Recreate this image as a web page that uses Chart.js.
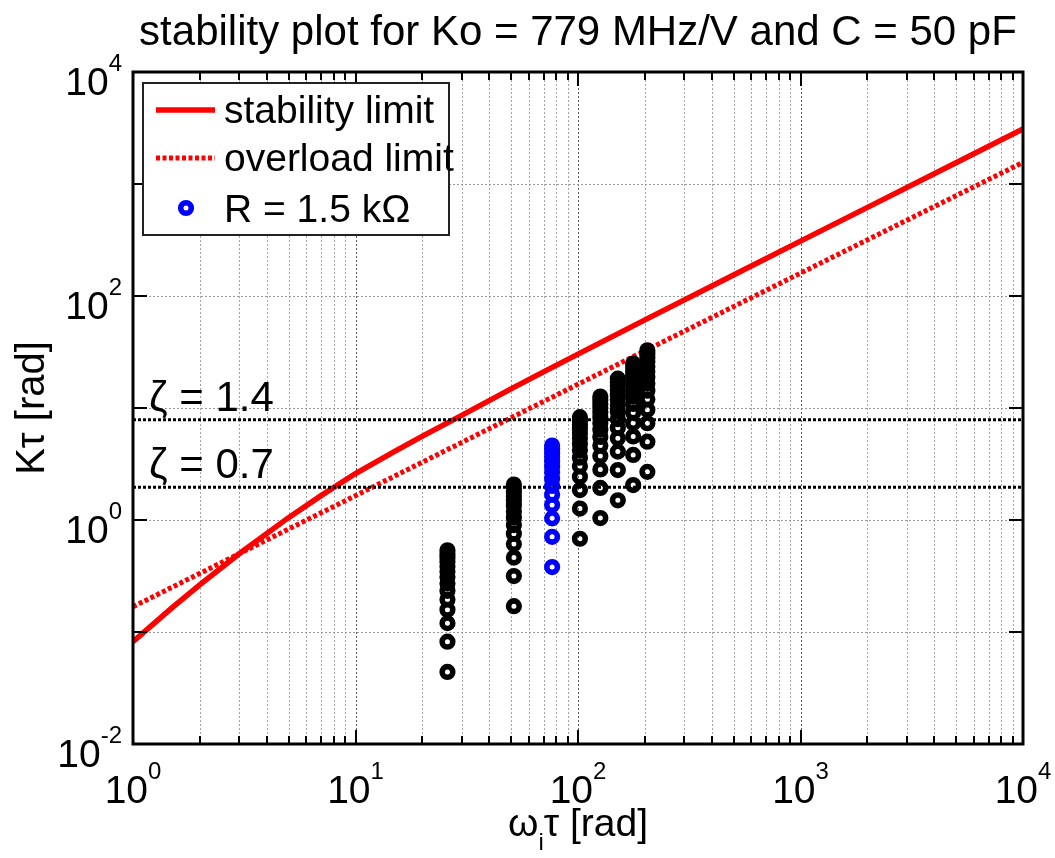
<!DOCTYPE html>
<html><head><meta charset="utf-8">
<script src="https://cdn.jsdelivr.net/npm/chart.js@4.4.0/dist/chart.umd.min.js"></script>
<style>html,body{margin:0;padding:0;background:#fff;}#wrap{width:1055px;height:858px;position:relative;}</style>
</head><body><div id="wrap"><canvas id="c" width="1055" height="858"></canvas></div>
<script>
// ---------------- data ----------------
const titleText = 'stability plot for Ko = 779 MHz/V and C = 50 pF';
const xTickValues = [1, 10, 100, 1000, 10000];
const xTickExps = ['0', '1', '2', '3', '4'];
const xMinorGrid = [2,3,4,5,6,7,8,9,20,30,40,50,60,70,80,90,200,300,400,500,600,700,800,900,2000,3000,4000,5000,6000,7000,8000,9000];
const yDecades = [0.01, 0.1, 1, 10, 100, 1000, 10000];
const yTickValues = [0.01, 1, 100, 10000];
const yTickExps = ['-2', '0', '2', '4'];

const stabilityX = [1, 1.5, 2, 3, 5, 7, 10, 15, 20, 30, 50, 70, 100, 200, 500, 1000, 2000, 5000, 10000];
const stabilityY = [0.082, 0.165, 0.265, 0.5, 1.05, 1.65, 2.6, 4.1, 5.6, 8.6, 14.8, 21, 30.3, 61.2, 154, 309, 619, 1549, 3099];
const overloadX = [1, 10, 100, 1000, 10000];
const overloadY = [0.168, 1.65, 16.3, 160, 1560];

const zetaValues = [7.84, 1.96];
const zetaLabels = ['\u03B6 = 1.4', '\u03B6 = 0.7'];

const colX = [25.9, 51.5, 102, 126, 151, 177, 205];
const colK = [
  [0.044, 0.082, 0.12, 0.158, 0.195, 0.233, 0.271, 0.309, 0.347, 0.385, 0.422, 0.46, 0.498, 0.536],
  [0.17, 0.316, 0.462, 0.609, 0.755, 0.901, 1.047, 1.193, 1.34, 1.486, 1.632, 1.778, 1.924, 2.071],
  [0.68, 1.265, 1.85, 2.434, 3.019, 3.604, 4.189, 4.774, 5.358, 5.943, 6.528, 7.113, 7.698, 8.282],
  [1.04, 1.934, 2.829, 3.723, 4.618, 5.512, 6.406, 7.301, 8.195, 9.09, 9.984, 10.878, 11.773, 12.667],
  [1.5, 2.79, 4.08, 5.37, 6.66, 7.95, 9.24, 10.53, 11.82, 13.11, 14.4, 15.69, 16.98, 18.27],
  [2.05, 3.813, 5.576, 7.339, 9.102, 10.865, 12.628, 14.391, 16.154, 17.917, 19.68, 21.443, 23.206, 24.969],
  [2.69, 5.003, 7.317, 9.63, 11.944, 14.257, 16.57, 18.884, 21.197, 23.511, 25.824, 28.137, 30.451, 32.764]
];
const blueX = 76.5;
const blueK = [0.38, 0.707, 1.034, 1.36, 1.687, 2.014, 2.341, 2.668, 2.994, 3.321, 3.648, 3.975, 4.302, 4.628];

const legendLabels = ['stability limit', 'overload limit', 'R = 1.5 k\u03A9'];

// ---------------- build ----------------
const FONT = "'Liberation Sans', Arial, Helvetica, sans-serif";
const blackPts = [];
colX.forEach((xv, i) => colK[i].forEach(k => blackPts.push({x: xv, y: k})));
const bluePts = blueK.map(k => ({x: blueX, y: k}));
const pairs = (xs, ys) => xs.map((v, i) => ({x: v, y: ys[i]}));

const R_PT = 5.3, BW_PT = 5.6;
const ringStyle = (color) => ({
  showLine: false, pointStyle: 'circle', pointRadius: R_PT, pointBorderWidth: BW_PT,
  borderWidth: BW_PT, borderColor: color, backgroundColor: 'rgba(0,0,0,0)',
  pointBorderColor: color, pointBackgroundColor: 'rgba(0,0,0,0)', pointHoverRadius: R_PT
});

const datasets = [
  Object.assign({label: 'black', data: blackPts}, ringStyle('#000')),
  Object.assign({label: 'R = 1.5 kΩ', data: bluePts}, ringStyle('#0000ff')),
  {label: 'zeta1', data: pairs([1, 10000], [zetaValues[0], zetaValues[0]]), showLine: true, pointRadius: 0,
   borderColor: '#000', borderWidth: 3, borderDash: [3, 2]},
  {label: 'zeta2', data: pairs([1, 10000], [zetaValues[1], zetaValues[1]]), showLine: true, pointRadius: 0,
   borderColor: '#000', borderWidth: 3, borderDash: [3, 2]},
  {label: 'overload limit', data: pairs(overloadX, overloadY), showLine: true, pointRadius: 0,
   borderColor: '#ff0000', borderWidth: 5, borderDash: [4, 2.5]},
  {label: 'stability limit', data: pairs(stabilityX, stabilityY), showLine: true, pointRadius: 0,
   borderColor: '#ff0000', borderWidth: 5.5}
];

function powLabel(ctx, exp, x, baseY, align, big, small) {
  ctx.font = big + 'px ' + FONT;
  const w1 = ctx.measureText('10').width;
  ctx.font = small + 'px ' + FONT;
  const w2 = ctx.measureText(exp).width;
  const total = w1 + w2;
  let left = align === 'center' ? x - total / 2 : x - total;
  ctx.textAlign = 'left';
  ctx.textBaseline = 'alphabetic';
  ctx.font = big + 'px ' + FONT;
  ctx.fillText('10', left, baseY);
  ctx.font = small + 'px ' + FONT;
  ctx.fillText(exp, left + w1, baseY - big * 0.62);
}

const look = {
  id: 'look',
  beforeDatasetsDraw(chart) {
    const {ctx, chartArea: a, scales: {x, y}} = chart;
    ctx.save();
    ctx.lineWidth = 1;
    ctx.setLineDash([2, 2]);
    const vline = (px) => { ctx.beginPath(); ctx.moveTo(px, a.top); ctx.lineTo(px, a.bottom); ctx.stroke(); };
    const hline = (py) => { ctx.beginPath(); ctx.moveTo(a.left, py); ctx.lineTo(a.right, py); ctx.stroke(); };
    ctx.strokeStyle = '#a6a6a6';
    xMinorGrid.forEach(v => vline(Math.round(x.getPixelForValue(v)) + 0.5));
    ctx.strokeStyle = '#5a5a5a';
    xTickValues.forEach(v => vline(Math.round(x.getPixelForValue(v)) + 0.5));
    ctx.strokeStyle = '#999';
    yDecades.forEach(v => hline(Math.round(y.getPixelForValue(v)) + 0.5));
    ctx.restore();
  },
  afterDatasetsDraw(chart) {
    const {ctx, chartArea: a, scales: {x, y}} = chart;
    ctx.save();
    // ticks
    ctx.strokeStyle = '#000';
    ctx.lineWidth = 2;
    ctx.setLineDash([]);
    const seg = (x1, y1, x2, y2) => { ctx.beginPath(); ctx.moveTo(x1, y1); ctx.lineTo(x2, y2); ctx.stroke(); };
    xMinorGrid.forEach(v => { const px = Math.round(x.getPixelForValue(v)); seg(px, a.bottom, px, a.bottom - 8); seg(px, a.top, px, a.top + 8); });
    xTickValues.forEach(v => { const px = Math.round(x.getPixelForValue(v)); seg(px, a.bottom, px, a.bottom - 14); seg(px, a.top, px, a.top + 14); });
    yDecades.forEach(v => { const py = Math.round(y.getPixelForValue(v)); seg(a.left, py, a.left + 14, py); seg(a.right, py, a.right - 14, py); });
    // frame
    ctx.lineWidth = 3;
    ctx.strokeRect(a.left, a.top, a.right - a.left, a.bottom - a.top);

    // zeta labels
    ctx.fillStyle = '#000';
    ctx.font = '42px ' + FONT;
    ctx.textAlign = 'left';
    ctx.textBaseline = 'alphabetic';
    zetaValues.forEach((v, i) => {
      const py = y.getPixelForValue(v);
      ctx.fillText(zetaLabels[i], a.left + 16, py - 9);
    });

    // legend
    const lx = 143, ly = 83, lw = 306, lh = 152;
    ctx.fillStyle = '#fff';
    ctx.fillRect(lx, ly, lw, lh);
    ctx.strokeStyle = '#222';
    ctx.lineWidth = 2;
    ctx.strokeRect(lx, ly, lw, lh);
    ctx.strokeStyle = '#ff0000';
    ctx.lineWidth = 5.5;
    seg(156, 110, 215, 110);
    ctx.lineWidth = 5;
    ctx.setLineDash([4, 2.5]);
    seg(156, 158, 215, 158);
    ctx.setLineDash([]);
    ctx.strokeStyle = '#0000ff';
    ctx.lineWidth = BW_PT;
    ctx.beginPath(); ctx.arc(186, 208, R_PT, 0, Math.PI * 2); ctx.stroke();
    ctx.fillStyle = '#000';
    ctx.font = '39px ' + FONT;
    ctx.fillText(legendLabels[0], 224, 123);
    ctx.fillText(legendLabels[1], 224, 171);
    ctx.fillText(legendLabels[2], 224, 222);

    // tick labels
    xTickValues.forEach((v, i) => powLabel(ctx, xTickExps[i], x.getPixelForValue(v), 803, 'center', 39, 24));
    yTickValues.forEach((v, i) => powLabel(ctx, yTickExps[i], 122, y.getPixelForValue(v) + 23, 'right', 39, 24));

    // title
    ctx.font = '42px ' + FONT;
    ctx.textAlign = 'center';
    ctx.fillText(titleText, (a.left + a.right) / 2, 45);

    // x-axis title  ω_i τ [rad]
    ctx.textAlign = 'left';
    ctx.font = '39px ' + FONT;
    const wOm = ctx.measureText('\u03C9').width;
    ctx.font = '24px ' + FONT;
    const wI = ctx.measureText('i').width;
    ctx.font = '39px ' + FONT;
    const wRest = ctx.measureText('\u03C4 [rad]').width;
    let sx = (a.left + a.right) / 2 - (wOm + wI + wRest) / 2;
    ctx.fillText('\u03C9', sx, 836);
    ctx.font = '24px ' + FONT;
    ctx.fillText('i', sx + wOm, 850);
    ctx.font = '39px ' + FONT;
    ctx.fillText('\u03C4 [rad]', sx + wOm + wI, 836);

    // y-axis title
    ctx.save();
    ctx.translate(44, (a.top + a.bottom) / 2);
    ctx.rotate(-Math.PI / 2);
    ctx.textAlign = 'center';
    ctx.font = '40px ' + FONT;
    ctx.fillText('K\u03C4 [rad]', 0, 0);
    ctx.restore();

    ctx.restore();
  }
};

new Chart(document.getElementById('c'), {
  type: 'scatter',
  data: {datasets},
  options: {
    responsive: false,
    animation: false,
    devicePixelRatio: 1,
    layout: {padding: {top: 72, right: 32, left: 0, bottom: 0}},
    elements: {point: {radius: R_PT, borderWidth: BW_PT}},
    plugins: {legend: {display: false}, title: {display: false}, tooltip: {enabled: false}},
    scales: {
      x: {type: 'logarithmic', min: 1, max: 10000, position: 'bottom',
          grid: {display: false}, border: {display: false},
          ticks: {display: false, autoSkip: false},
          afterFit: (s) => { s.height = 114; }},
      y: {type: 'logarithmic', min: 0.01, max: 10000, position: 'left',
          grid: {display: false}, border: {display: false},
          ticks: {display: false, autoSkip: false},
          afterFit: (s) => { s.width = 133; }}
    }
  },
  plugins: [look]
});
</script></body></html>
